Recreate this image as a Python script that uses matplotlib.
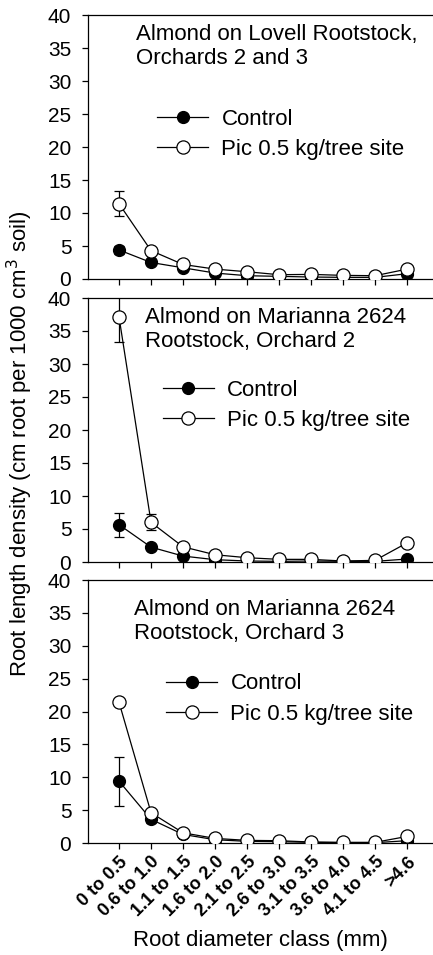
import numpy as np
import matplotlib.pyplot as plt

plt.rcParams['font.family'] = ['Liberation Sans', 'DejaVu Sans']

# Root diameter classes (mm)
classes = ['0 to 0.5', '0.6 to 1.0', '1.1 to 1.5', '1.6 to 2.0', '2.1 to 2.5',
           '2.6 to 3.0', '3.1 to 3.5', '3.6 to 4.0', '4.1 to 4.5', '>4.6']

# Panel 1: Lovell rootstock, orchards 2 and 3
lovell_control = [4.4, 2.5, 1.7, 0.9, 0.5, 0.4, 0.3, 0.25, 0.25, 0.8]
lovell_control_err = [0.6, 0.3, 0, 0, 0, 0, 0, 0, 0, 0]
lovell_pic = [11.4, 4.3, 2.2, 1.5, 1.1, 0.65, 0.7, 0.55, 0.5, 1.5]
lovell_pic_err = [1.9, 0.4, 0, 0, 0, 0, 0, 0, 0, 0]

# Panel 2: Marianna 2624, orchard 2
mar2_control = [5.65, 2.25, 0.9, 0.35, 0.15, 0.1, 0.15, 0.1, 0.1, 0.45]
mar2_control_err = [1.85, 0.3, 0, 0, 0, 0, 0, 0, 0, 0]
mar2_pic = [37.1, 6.0, 2.3, 1.1, 0.65, 0.4, 0.4, 0.15, 0.25, 2.9]
mar2_pic_err = [3.7, 1.2, 0, 0, 0, 0, 0, 0, 0, 0]

# Panel 3: Marianna 2624, orchard 3
mar3_control = [9.4, 3.6, 1.3, 0.5, 0.25, 0.2, 0.1, 0.05, 0.05, 0.35]
mar3_control_err = [3.7, 0.5, 0, 0, 0, 0, 0, 0, 0, 0]
mar3_pic = [21.4, 4.6, 1.55, 0.7, 0.4, 0.35, 0.15, 0.1, 0.1, 1.0]
mar3_pic_err = [0, 0, 0, 0, 0, 0, 0, 0, 0, 0]

titles = ['Almond on Lovell Rootstock,\nOrchards 2 and 3',
          'Almond on Marianna 2624\nRootstock, Orchard 2',
          'Almond on Marianna 2624\nRootstock, Orchard 3']

panels = [(lovell_control, lovell_control_err, lovell_pic, lovell_pic_err),
          (mar2_control, mar2_control_err, mar2_pic, mar2_pic_err),
          (mar3_control, mar3_control_err, mar3_pic, mar3_pic_err)]

W, H = 433, 955
fig = plt.figure(figsize=(W / 100, H / 100), dpi=100)

# axes boxes in pixels: (top, bottom)
boxes = [(15, 279), (298, 562), (580, 843)]
left_px, right_px = 88, 433
title_pos = [(0.139, 0.965), (0.165, 0.965), (0.133, 0.927)]
legend_pos = [(0.20, 0.645), (0.217, 0.69), (0.226, 0.645)]

x = np.arange(len(classes))
for i, (top, bot) in enumerate(boxes):
    ax = fig.add_axes([left_px / W, 1 - bot / H, (right_px - left_px) / W, (bot - top) / H])
    ctrl, ctrl_err, pic, pic_err = panels[i]
    ax.errorbar(x, ctrl, yerr=ctrl_err, fmt='none', ecolor='black', elinewidth=0.9,
                capsize=3.3, capthick=0.9, zorder=1)
    ax.errorbar(x, pic, yerr=pic_err, fmt='none', ecolor='black', elinewidth=0.9,
                capsize=3.3, capthick=0.9, zorder=1)
    ax.plot(x, ctrl, '-o', color='black', mfc='black', mec='black', ms=8.5, lw=0.9,
            label='Control', zorder=3)
    ax.plot(x, pic, '-o', color='black', mfc='white', mec='black', ms=9.5, mew=0.9, lw=0.9,
            label='Pic 0.5 kg/tree site', zorder=4)
    ax.set_xlim(-0.97, 9.81)
    ax.set_ylim(0, 40)
    ax.set_yticks(range(0, 41, 5))
    ax.set_xticks(x)
    ax.spines['right'].set_visible(False)
    for s in ax.spines.values():
        s.set_linewidth(0.9)
    ax.tick_params(direction='out', length=4, width=0.9, labelsize=15)
    ax.tick_params(axis='y', pad=8)
    ax.text(title_pos[i][0], title_pos[i][1], titles[i], transform=ax.transAxes,
            ha='left', va='top', fontsize=16, linespacing=1.15)
    ax.legend(loc='upper left', bbox_to_anchor=legend_pos[i], frameon=False, fontsize=16,
              handlelength=2.3, handletextpad=0.6, labelspacing=0.42, borderpad=0,
              borderaxespad=0)
    if i < 2:
        ax.set_xticklabels([])
    else:
        ax.set_xticklabels(classes, rotation=45, ha='right', va='top',
                           rotation_mode='anchor', fontsize=13, fontweight='bold')

fig.text(260 / W, 1 - 940 / H, 'Root diameter class (mm)', ha='center', va='center',
         fontsize=16)
fig.text(20 / W, 1 - 444 / H, 'Root length density (cm root per 1000 cm$^3$ soil)',
         ha='center', va='center', rotation=90, fontsize=16)

fig.savefig('out.png', dpi=100)
